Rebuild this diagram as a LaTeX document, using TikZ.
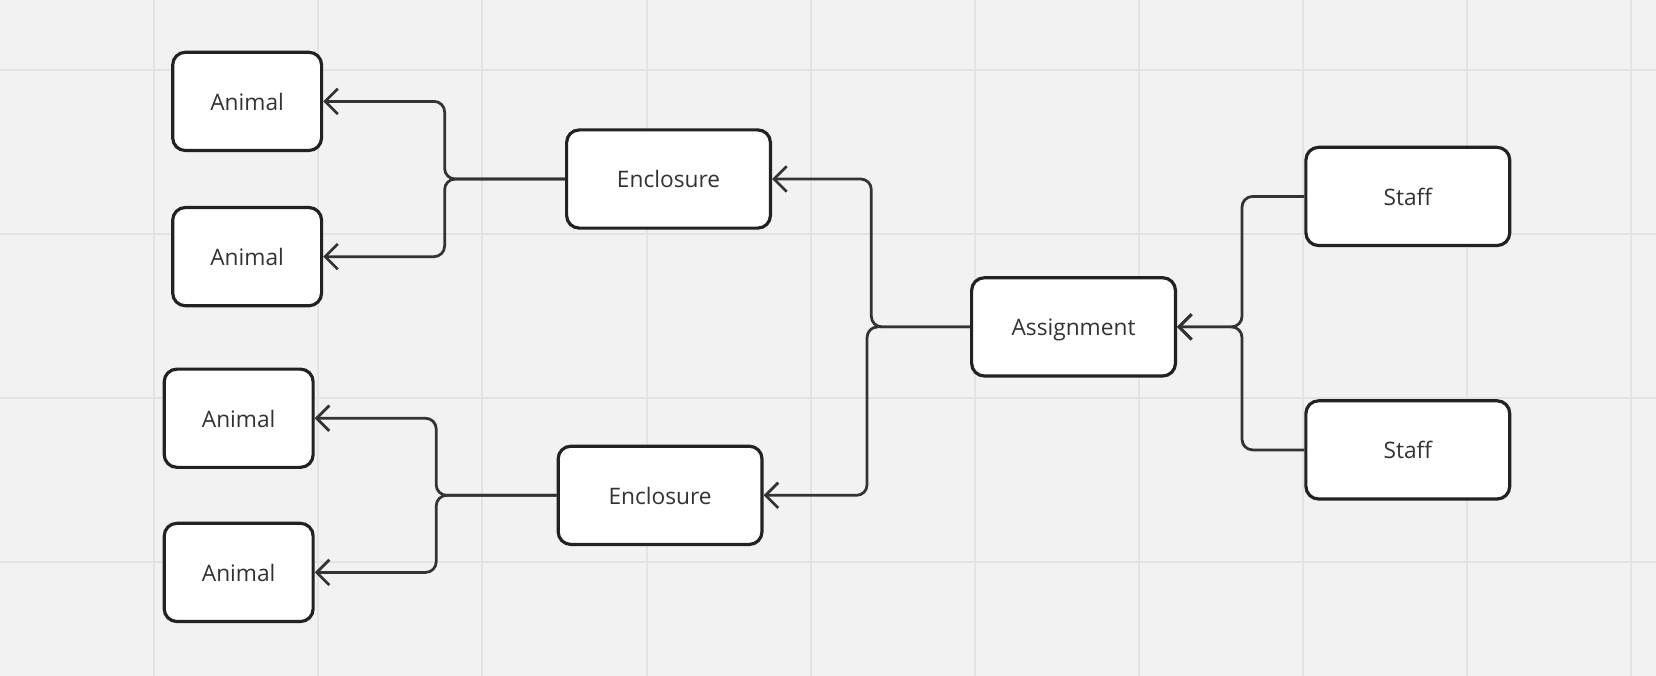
\documentclass[tikz,border=0pt]{standalone}
\usepackage{fontspec}
\setmainfont{Open Sans}
\usetikzlibrary{arrows.meta}
\definecolor{bgcol}{HTML}{F2F2F2}
\definecolor{gridcol}{HTML}{E4E4E4}
\definecolor{boxline}{HTML}{222222}
\definecolor{linkcol}{HTML}{333333}
\tikzset{
  entity/.style={draw=boxline,fill=white,line width=3pt,rounded corners=12pt,
    minimum width=193pt,minimum height=93pt,text=linkcol,
    text height=19pt,text depth=2pt,
    font=\fontsize{21.5}{26}\selectfont},
  small/.style={entity,minimum width=141pt},
  link/.style={draw=linkcol,line width=2.6pt,rounded corners=10pt,
    -{Straight Barb[length=12pt,width=24pt]}}
}
\begin{document}
\begin{tikzpicture}[x=1pt,y=-1pt]
	\fill[bgcol] (0,0) rectangle (1568,640);
	\useasboundingbox (0,0) rectangle (1568,640);
	\foreach \gx in {146,301.4,...,1560} \draw[gridcol,line width=2pt] (\gx,0) -- (\gx,640);
	\foreach \gy in {66,221.4,...,640} \draw[gridcol,line width=2pt] (0,\gy) -- (1568,\gy);
	
	\node[small] (A1) at (234,96) {Animal};
	\node[small] (A2) at (234,243) {Animal};
	\node[small] (A3) at (226,396) {Animal};
	\node[small] (A4) at (226,542) {Animal};
	\node[entity] (E1) at (633,169.5) {Enclosure};
	\node[entity] (E2) at (625,469) {Enclosure};
	\node[entity] (As) at (1016.5,309.5) {Assignment};
	\node[entity] (S1) at (1333,186) {Staff};
	\node[entity] (S2) at (1333,426) {Staff};
	
	\draw[link] (E1.west) -- (421,169.5) |- (A1.east);
	\draw[link] (E1.west) -- (421,169.5) |- (A2.east);
	\draw[link] (E2.west) -- (413,469) |- (A3.east);
	\draw[link] (E2.west) -- (413,469) |- (A4.east);
	\draw[link] (As.west) -- (825,309.5) |- (E1.east);
	\draw[link] (As.west) -- (821,309.5) |- (E2.east);
	\draw[link] (S1.west) -- (1176,186) |- (As.east);
	\draw[link] (S2.west) -- (1176,426) |- (As.east);
	
\end{tikzpicture}
\end{document}
